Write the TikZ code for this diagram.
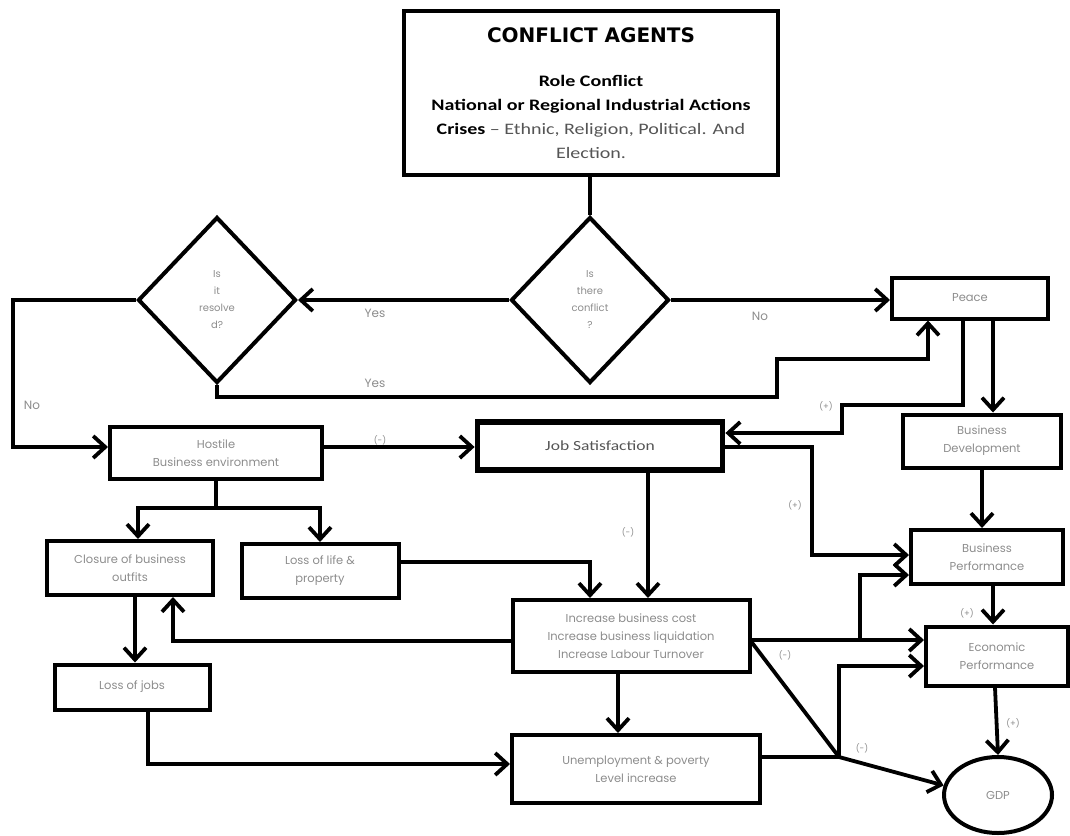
\documentclass[tikz,border=0pt]{standalone}
\usepackage{fontspec}
\setmainfont{Carlito}
\newfontfamily\gothic{Poppins}
\newfontfamily\heavy{DejaVu Sans}
\newfontfamily\wide{Carlito}[FakeStretch=1.25]
\usetikzlibrary{arrows.meta,shapes.geometric}

\definecolor{softgray}{HTML}{8C8C8C}
\definecolor{midgray}{HTML}{555555}

\tikzset{
  box/.style={draw, line width=4pt, inner sep=0pt, align=center, text=softgray,
    font=\gothic\fontsize{11.5}{18}\selectfont},
  ask/.style={draw, diamond, line width=4pt, inner sep=0pt, minimum width=158pt,
    minimum height=166pt, align=center, text=softgray, font=\gothic\fontsize{10}{17}\selectfont},
  link/.style={line width=3.8pt},
  arr/.style={link, -{Straight Barb[length=12pt,width=22pt]}},
  lbl/.style={text=softgray, font=\gothic\fontsize{12}{14}\selectfont, inner sep=1pt},
  sgn/.style={text=softgray, font=\gothic\fontsize{8.5}{10}\selectfont, inner sep=1pt},
}

\begin{document}
\begin{tikzpicture}[x=1pt,y=-1pt]
	\useasboundingbox (0,0) rectangle (1070,835);
	%%%%% BOXES %%%%%
	\node[box, line width=4.4pt, text=black, minimum width=374pt, minimum height=164pt,
	  font=\wide\fontsize{16}{24}\selectfont] (agents) at (591,93)
	  {{\heavy\bfseries\fontsize{20}{24}\selectfont CONFLICT AGENTS}\\[20pt]
	   \textbf{Role Conflict}\\
	   \textbf{National or Regional Industrial Actions}\\
	   \textbf{Crises} {\color{midgray}– Ethnic, Religion, Political. And}\\
	   {\color{midgray}Election.}};
	
	\node[ask] (q1) at (590,300) {Is\\there\\conflict\\?};
	\node[ask] (q2) at (217,300) {Is\\it\\resolve\\d?};
	
	\node[box, minimum width=156pt, minimum height=41pt] (peace) at (970,298) {Peace};
	\node[box, minimum width=158pt, minimum height=53pt] (busdev) at (982,441) {Business\\Development};
	\node[box, minimum width=152pt, minimum height=54pt] (busperf) at (987,557) {Business\\Performance};
	\node[box, minimum width=142pt, minimum height=59pt] (ecoperf) at (997,656) {Economic\\Performance};
	\node[box, ellipse, minimum width=108pt, minimum height=76pt] (gdp) at (998,795) {GDP};
	
	\node[box, minimum width=212pt, minimum height=52pt] (hostile) at (216,453) {Hostile\\Business environment};
	\node[box, line width=5.8pt, text=midgray, font=\wide\fontsize{14}{16}\selectfont,
	  minimum width=245pt, minimum height=48pt] (jobsat) at (600,446) {Job Satisfaction};
	\node[box, minimum width=166pt, minimum height=54pt] (closure) at (130,568) {Closure of business\\outfits};
	\node[box, minimum width=157pt, minimum height=54pt] (lossLife) at (320,571) {Loss of life \&\\property};
	\node[box, minimum width=155pt, minimum height=45pt] (lossJobs) at (132,687) {Loss of jobs};
	\node[box, minimum width=237pt, minimum height=72pt] (costs) at (631,636)
	  {Increase business cost\\Increase business liquidation\\Increase Labour Turnover};
	\node[box, minimum width=248pt, minimum height=68pt] (unemp) at (636,769)
	  {Unemployment \& poverty\\Level increase};
	
	\coordinate (fork) at (860,640);
	\coordinate (junc) at (839,757);
	
	%%%%% CONNECTORS %%%%%
	\draw[link] (agents.south -| q1.north) -- (q1.north);
	\draw[arr] (q1.west) -- (q2.east);
	\draw[arr] (q1.east) -- (q1.east -| peace.west);
	\draw[arr] (q2.south) |- (777,397) -- (777,359) -| ([xshift=-42pt]peace.south);
	\draw[arr] (q2.west) -| (13,420) |- ([yshift=6pt]hostile.west);
	
	\draw[arr] ([yshift=6pt]hostile.east) -- ([yshift=6pt]hostile.east -| jobsat.west);
	\draw[link] (hostile.south) -- ++(0,27) coordinate (split);
	\draw[arr] (split) -| ([xshift=8pt]closure.north);
	\draw[arr] (split) -| (lossLife.north);
	\draw[arr] ([yshift=9pt]lossLife.east) -| ([xshift=-41pt]costs.north);
	\draw[arr] ([xshift=48pt]jobsat.south) -- ([xshift=48pt]jobsat.south |- costs.north);
	
	\draw[arr] ([xshift=-7pt]peace.south) |- (842,405) |- ([yshift=13pt]jobsat.east);
	\draw[arr] ([xshift=23pt]peace.south) -- ([xshift=23pt]peace.south |- busdev.north);
	\draw[arr] (busdev.south) -- (busdev.south |- busperf.north);
	\draw[arr] ([yshift=-1pt]jobsat.east) -| (812,500) |- ([yshift=2pt]busperf.west);
	\draw[arr] ([yshift=-4pt]costs.east) -- ([yshift=16pt]ecoperf.west);
	\draw[arr] (fork) |- ([yshift=-18pt]busperf.west);
	\draw[arr] ([xshift=6pt]busperf.south) -- ([xshift=6pt]busperf.south |- ecoperf.north);
	\draw[arr] ([xshift=-2pt]ecoperf.south) -- (gdp.north);
	
	\draw[link] ([yshift=-6pt]costs.east) -- (junc);
	\draw[link] ([yshift=12pt]unemp.east) -- (junc);
	\draw[arr] (junc) |- ([yshift=-10pt]ecoperf.west);
	\draw[arr] (junc) -- (gdp.170);
	
	\draw[arr] ([yshift=-5pt]costs.west) -| ([xshift=43pt]closure.south);
	\draw[arr] ([xshift=5pt]closure.south) -- ([xshift=5pt]closure.south |- lossJobs.north);
	\draw[arr] ([xshift=16pt]lossJobs.south) |- ([yshift=5pt]unemp.west);
	\draw[arr] ([xshift=-13pt]costs.south) -- ([xshift=-13pt]costs.south |- unemp.north);
	
	%%%%% LABELS %%%%%
	\node[lbl] (yesLeft) at (375,313) {Yes};
	\node[lbl] (noRight) at (760,316) {No};
	\node[lbl] (yesBack) at (375,383) {Yes};
	\node[lbl] (noDown) at (32,405) {No};
	\node[sgn] (sHostile) at (380,440) {(-)};
	\node[sgn] (sJob) at (628,532) {(-)};
	\node[sgn] (sPeace) at (826,406) {(+)};
	\node[sgn] (sJobPerf) at (795,505) {(+)};
	\node[sgn] (sPerf) at (967,613) {(+)};
	\node[sgn] (sEco) at (1013,723) {(+)};
	\node[sgn] (sCost) at (785,655) {(-)};
	\node[sgn] (sJunc) at (862,748) {(-)};
\end{tikzpicture}
\end{document}
